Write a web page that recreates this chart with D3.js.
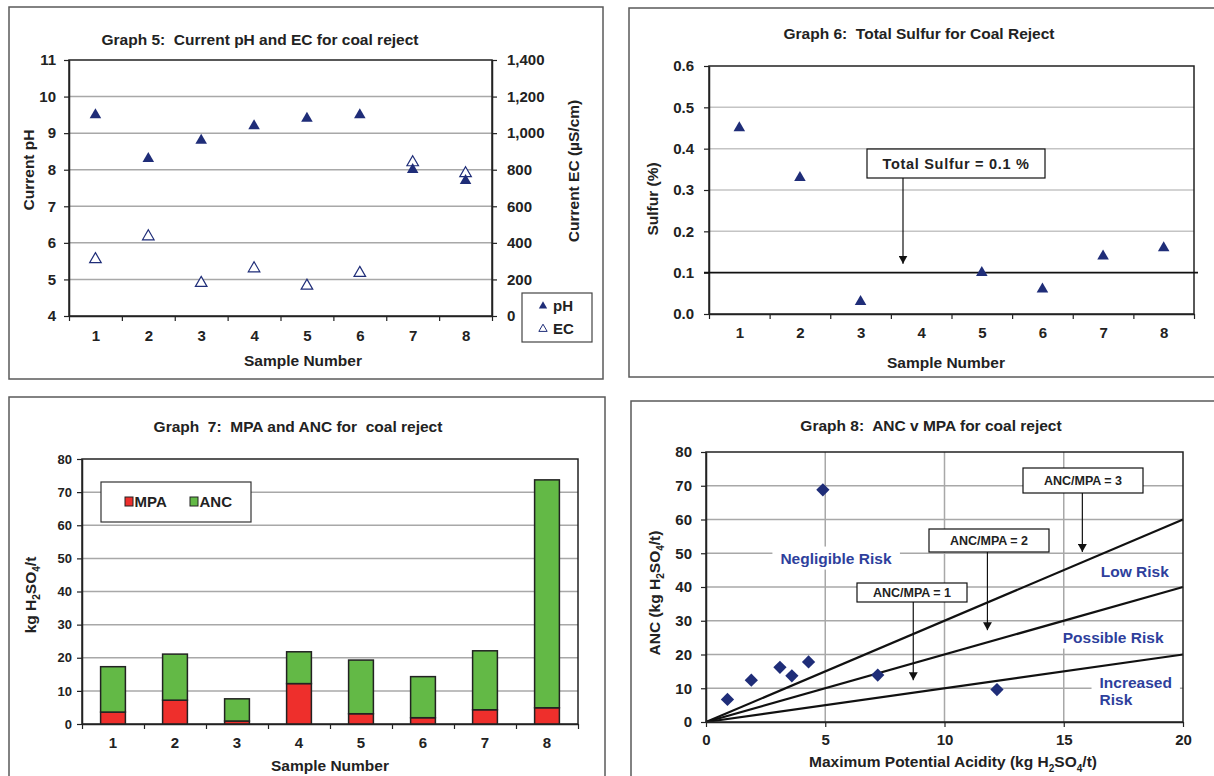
<!DOCTYPE html>
<html>
<head>
<meta charset="utf-8">
<script src="https://cdn.jsdelivr.net/npm/d3@7"></script>
<style>
  body { margin: 0; background: #fff; }
  text { font-family: "Liberation Sans", Arial, sans-serif; font-weight: bold; fill: #222; white-space: pre; }
</style>
</head>
<body>
<svg id="page" width="1214" height="776"></svg>
<script>
(function () {

  // values
  var samples = [1, 2, 3, 4, 5, 6, 7, 8];
  var phValues = [9.5, 8.3, 8.8, 9.2, 9.4, 9.5, 8.0, 7.7];
  var ecValues = [310, 435, 180, 260, 165, 235, 840, 780];
  var sulfurValues = [0.45, 0.33, 0.03, null, 0.10, 0.06, 0.14, 0.16];
  var mpaValues = [3.6, 7.2, 0.9, 12.2, 3.1, 1.9, 4.3, 4.9];
  var ancValues = [13.7, 13.9, 6.7, 9.6, 16.2, 12.4, 17.8, 68.8];
  var ancMpaRatios = [1, 2, 3];
  var sulfurLimit = 0.1;
  var phTicks = d3.range(4, 12);
  var ecTicks = d3.range(0, 1401, 200);
  var sulfurTicks = [0, 0.1, 0.2, 0.3, 0.4, 0.5, 0.6];
  var kgTicks = d3.range(0, 81, 10);
  var mpaTicks = [0, 5, 10, 15, 20];

  var svg = d3.select('#page');
  var navy = '#1f2d78';
  var riskBlue = '#2e3f9c';
  var ink = '#222';
  var grid = '#a8a8a8';

  svg.append('rect').attr('width', 1214).attr('height', 776).attr('fill', 'white');

  svg.append('defs').append('marker')
    .attr('id', 'arrow')
    .attr('viewBox', '0 0 10 10')
    .attr('refX', 10).attr('refY', 5)
    .attr('markerWidth', 8).attr('markerHeight', 9)
    .attr('markerUnits', 'userSpaceOnUse')
    .attr('preserveAspectRatio', 'none')
    .attr('orient', 'auto')
    .append('path').attr('d', 'M0,0L10,5L0,10Z').attr('fill', '#111');

  function frame(x, y, w, h) {
    svg.append('rect').attr('x', x).attr('y', y).attr('width', w).attr('height', h)
      .attr('fill', 'none').attr('stroke', '#5a5a5a').attr('stroke-width', 1.5);
  }

  // parts: [[text], [text, 'sub'], ...]
  function label(x, y, parts, size, rotate) {
    var t = svg.append('text').attr('font-size', size).attr('text-anchor', 'middle');
    if (rotate) t.attr('transform', 'translate(' + x + ',' + y + ') rotate(-90)');
    else t.attr('x', x).attr('y', y);
    var shifted = false;
    parts.forEach(function (p) {
      var s = t.append('tspan').text(p[0]);
      var sub = p[1] === 'sub';
      if (sub) s.attr('font-size', size * 0.65);
      if (sub && !shifted) s.attr('dy', size * 0.3);
      if (!sub && shifted) s.attr('dy', -size * 0.3);
      shifted = sub;
    });
    return t;
  }

  function axis(gen, tx, ty, size) {
    var g = svg.append('g').attr('transform', 'translate(' + tx + ',' + ty + ')').call(gen);
    g.attr('font-size', size).attr('color', ink);
    g.select('.domain').attr('stroke-width', 1.5);
    g.selectAll('.tick line').attr('stroke-width', 1.2);
    return g;
  }

  function hGrid(vals, yScale, x1, x2, color) {
    svg.append('g').selectAll('line')
      .data(vals)
      .join('line')
      .attr('x1', x1).attr('x2', x2)
      .attr('y1', function (d) { return yScale(d); })
      .attr('y2', function (d) { return yScale(d); })
      .attr('stroke', color).attr('stroke-width', 1.5);
  }

  function plotBox(p) {
    svg.append('rect').attr('x', p.l).attr('y', p.t).attr('width', p.r - p.l).attr('height', p.b - p.t)
      .attr('fill', 'none').attr('stroke', ink).attr('stroke-width', 1.5);
  }

  function callout(x, y, w, h, text, size, arrowX, arrowTip) {
    svg.append('line')
      .attr('x1', arrowX).attr('x2', arrowX).attr('y1', y + h).attr('y2', arrowTip)
      .attr('stroke', '#111').attr('stroke-width', 1.2)
      .attr('marker-end', 'url(#arrow)');
    svg.append('rect').attr('x', x).attr('y', y).attr('width', w).attr('height', h)
      .attr('fill', 'white').attr('stroke', '#111').attr('stroke-width', 1.2);
    return svg.append('text').attr('x', x + w / 2).attr('y', y + h / 2 + size * 0.36)
      .attr('text-anchor', 'middle').attr('font-size', size).text(text);
  }

  // ---------- Graph 5 ----------
  frame(9, 7, 594, 372);
  var p5 = { l: 69, r: 492, t: 60, b: 316 };
  var x5 = d3.scaleLinear().domain([0.5, 8.5]).range([p5.l, p5.r]);
  var ph5 = d3.scaleLinear().domain([4, 11]).range([p5.b, p5.t]);
  var ec5 = d3.scaleLinear().domain([0, 1400]).range([p5.b, p5.t]);

  hGrid(phTicks.slice(1, -1), ph5, p5.l, p5.r, grid);
  plotBox(p5);

  axis(d3.axisLeft(ph5).tickValues(phTicks).tickFormat(d3.format('d')).tickSize(5).tickSizeOuter(0).tickPadding(8), p5.l, 0, 15);
  axis(d3.axisRight(ec5).tickValues(ecTicks).tickFormat(d3.format(',')).tickSize(5).tickSizeOuter(0).tickPadding(10), p5.r, 0, 15);
  axis(d3.axisBottom(x5).tickValues(d3.range(0.5, 9, 1)).tickFormat('').tickSize(5).tickSizeOuter(0), 0, p5.b, 15);
  axis(d3.axisBottom(x5).tickValues(samples).tickSize(0).tickPadding(14), 0, p5.b, 15)
    .select('.domain').remove();

  svg.append('g').selectAll('path')
    .data(samples)
    .join('path')
    .attr('transform', function (d, i) { return 'translate(' + x5(d) + ',' + ec5(ecValues[i]) + ')'; })
    .attr('d', d3.symbol(d3.symbolTriangle, 58))
    .attr('fill', 'white').attr('stroke', navy).attr('stroke-width', 1.2);

  svg.append('g').selectAll('path')
    .data(samples)
    .join('path')
    .attr('transform', function (d, i) { return 'translate(' + x5(d) + ',' + ph5(phValues[i]) + ')'; })
    .attr('d', d3.symbol(d3.symbolTriangle, 58))
    .attr('fill', navy);

  // legend
  svg.append('rect').attr('x', 522).attr('y', 293).attr('width', 70).attr('height', 49)
    .attr('fill', 'white').attr('stroke', '#444').attr('stroke-width', 1.2);
  svg.append('path').attr('transform', 'translate(543,306)').attr('d', d3.symbol(d3.symbolTriangle, 30)).attr('fill', navy);
  svg.append('path').attr('transform', 'translate(543,329)').attr('d', d3.symbol(d3.symbolTriangle, 30))
    .attr('fill', 'white').attr('stroke', navy).attr('stroke-width', 1);
  svg.append('text').attr('x', 553).attr('y', 311).attr('font-size', 15).text('pH');
  svg.append('text').attr('x', 553).attr('y', 334).attr('font-size', 15).text('EC');

  label(260, 45, [['Graph 5:  Current pH and EC for coal reject']], 15.5);
  label(34, 170, [['Current pH']], 15.5, true);
  label(578.5, 171, [['Current EC (µS/cm)']], 15.5, true);
  label(303, 366, [['Sample Number']], 15.5);

  // ---------- Graph 6 ----------
  frame(629, 8, 600, 369);
  var p6 = { l: 709, r: 1194, t: 66, b: 314 };
  var x6 = d3.scaleLinear().domain([0.5, 8.5]).range([p6.l, p6.r]);
  var y6 = d3.scaleLinear().domain([0, 0.6]).range([p6.b, p6.t]);

  hGrid(sulfurTicks.slice(2, -1), y6, p6.l, p6.r, '#c4c4c4');
  plotBox(p6);

  axis(d3.axisLeft(y6).tickValues(sulfurTicks).tickFormat(d3.format('.1f')).tickSize(5).tickSizeOuter(0).tickPadding(10), p6.l, 0, 15);
  axis(d3.axisBottom(x6).tickValues(d3.range(0.5, 9, 1)).tickFormat('').tickSize(5).tickSizeOuter(0), 0, p6.b, 15);
  axis(d3.axisBottom(x6).tickValues(samples).tickSize(0).tickPadding(13), 0, p6.b, 15)
    .select('.domain').remove();

  svg.append('line')
    .attr('x1', p6.l - 5).attr('x2', p6.r + 4)
    .attr('y1', y6(sulfurLimit)).attr('y2', y6(sulfurLimit))
    .attr('stroke', '#111').attr('stroke-width', 1.6);

  svg.append('g').selectAll('path')
    .data(samples.filter(function (d, i) { return sulfurValues[i] != null; }))
    .join('path')
    .attr('transform', function (d) { return 'translate(' + x6(d) + ',' + y6(sulfurValues[d - 1]) + ')'; })
    .attr('d', d3.symbol(d3.symbolTriangle, 58))
    .attr('fill', navy);

  callout(867, 149, 178, 29, 'Total Sulfur = 0.1 %', 14.5, 903, y6(sulfurLimit) - 9)
    .attr('letter-spacing', 0.7);

  label(919, 39, [['Graph 6:  Total Sulfur for Coal Reject']], 15.5);
  label(657.5, 199, [['Sulfur (%)']], 15.5, true);
  label(946, 368, [['Sample Number']], 15.5);

  // ---------- Graph 7 ----------
  frame(9, 397, 596, 400);
  var p7 = { l: 82, r: 578, t: 459, b: 724 };
  var x7 = d3.scaleBand().domain(samples).range([p7.l, p7.r]).paddingInner(0.6).paddingOuter(0.3);
  var xb7 = d3.scaleLinear().domain([0, samples.length]).range([p7.l, p7.r]);
  var y7 = d3.scaleLinear().domain([0, 80]).range([p7.b, p7.t]);

  hGrid(kgTicks.slice(1, -1), y7, p7.l, p7.r, grid);
  plotBox(p7);

  var rows = samples.map(function (s, i) { return { sample: s, MPA: mpaValues[i], ANC: ancValues[i] }; });
  var stacked = d3.stack().keys(['MPA', 'ANC'])(rows);
  var barColor = { MPA: '#ee2f2c', ANC: '#63b946' };

  svg.append('g').selectAll('g')
    .data(stacked)
    .join('g')
    .attr('fill', function (d) { return barColor[d.key]; })
    .selectAll('rect')
    .data(function (d) { return d; })
    .join('rect')
    .attr('x', function (d) { return x7(d.data.sample); })
    .attr('width', x7.bandwidth())
    .attr('y', function (d) { return y7(d[1]); })
    .attr('height', function (d) { return y7(d[0]) - y7(d[1]); })
    .attr('stroke', ink).attr('stroke-width', 1.5);

  axis(d3.axisLeft(y7).tickValues(kgTicks).tickSize(5).tickSizeOuter(0).tickPadding(5), p7.l, 0, 13);
  axis(d3.axisBottom(xb7).tickValues(d3.range(0, samples.length + 1)).tickFormat('').tickSize(5).tickSizeOuter(0), 0, p7.b, 15);
  axis(d3.axisBottom(x7).tickSize(0).tickPadding(13), 0, p7.b, 15)
    .select('.domain').remove();

  // legend
  svg.append('rect').attr('x', 101).attr('y', 482).attr('width', 150).attr('height', 40)
    .attr('fill', 'white').attr('stroke', '#333').attr('stroke-width', 1.2);
  svg.append('rect').attr('x', 125).attr('y', 497).attr('width', 8).attr('height', 9)
    .attr('fill', barColor.MPA).attr('stroke', ink).attr('stroke-width', 1);
  svg.append('rect').attr('x', 190).attr('y', 497).attr('width', 8).attr('height', 9)
    .attr('fill', barColor.ANC).attr('stroke', ink).attr('stroke-width', 1);
  svg.append('text').attr('x', 134.5).attr('y', 507).attr('font-size', 15).text('MPA');
  svg.append('text').attr('x', 199.5).attr('y', 507).attr('font-size', 15).text('ANC');

  label(298, 432, [['Graph  7:  MPA and ANC for  coal reject']], 15.5);
  label(35.5, 595, [['kg H'], ['2', 'sub'], ['SO'], ['4', 'sub'], ['/t']], 15.5, true);
  label(330, 771, [['Sample Number']], 15.5);

  // ---------- Graph 8 ----------
  frame(631, 401, 600, 400);
  var p8 = { l: 706, r: 1183, t: 452, b: 722 };
  var x8 = d3.scaleLinear().domain([0, 20]).range([p8.l, p8.r]);
  var y8 = d3.scaleLinear().domain([0, 80]).range([p8.b, p8.t]);

  hGrid(kgTicks.slice(1, -1), y8, p8.l, p8.r, grid);
  svg.append('g').selectAll('line')
    .data(mpaTicks.slice(1, -1))
    .join('line')
    .attr('y1', p8.t).attr('y2', p8.b)
    .attr('x1', function (d) { return x8(d); })
    .attr('x2', function (d) { return x8(d); })
    .attr('stroke', grid).attr('stroke-width', 1.5);

  // risk zone labels on white patches
  function riskText(lines, x, y, anchor) {
    var size = 15.5;
    var t = svg.append('text').attr('font-size', size).attr('text-anchor', anchor)
      .style('fill', riskBlue);
    lines.forEach(function (l, i) {
      t.append('tspan').attr('x', x).attr('y', y + i * 17 + size * 0.36).text(l);
    });
    var bb = t.node().getBBox();
    svg.insert('rect', function () { return t.node(); })
      .attr('x', bb.x - 8).attr('y', bb.y - 3).attr('width', bb.width + 16).attr('height', bb.height + 6)
      .attr('fill', 'white');
  }
  riskText(['Negligible Risk'], x8(5.45), y8(48.6), 'middle');
  riskText(['Low Risk'], x8(17.98), y8(44.6), 'middle');
  riskText(['Possible Risk'], x8(17.07), y8(25.2), 'middle');
  riskText(['Increased', 'Risk'], x8(16.5), y8(11.8), 'start');

  svg.append('g').selectAll('line')
    .data(ancMpaRatios)
    .join('line')
    .attr('x1', x8(0)).attr('y1', y8(0))
    .attr('x2', x8(20)).attr('y2', function (r) { return y8(20 * r); })
    .attr('stroke', '#111').attr('stroke-width', 2.2);

  plotBox(p8);

  svg.append('g').selectAll('path')
    .data(mpaValues)
    .join('path')
    .attr('transform', function (d, i) { return 'translate(' + x8(d) + ',' + y8(ancValues[i]) + ') rotate(45)'; })
    .attr('d', d3.symbol(d3.symbolSquare, 88))
    .attr('fill', navy);

  callout(1023, 468, 120, 25, 'ANC/MPA = 3', 12.5, x8(15.78), y8(50.4));
  callout(929, 529, 120, 23, 'ANC/MPA = 2', 12.5, x8(11.8), y8(27.2));
  callout(857, 583, 110, 19, 'ANC/MPA = 1', 12.5, x8(8.69), y8(12.4));

  axis(d3.axisLeft(y8).tickValues(kgTicks).tickSize(5).tickSizeOuter(0).tickPadding(9), p8.l, 0, 15);
  axis(d3.axisBottom(x8).tickValues(mpaTicks).tickSize(5).tickSizeOuter(0).tickPadding(7), 0, p8.b, 15);

  label(931, 431, [['Graph 8:  ANC v MPA for coal reject']], 15.5);
  label(659.5, 593, [['ANC (kg H'], ['2', 'sub'], ['SO'], ['4', 'sub'], ['/t)']], 15.5, true);
  label(953, 767, [['Maximum Potential Acidity (kg H'], ['2', 'sub'], ['SO'], ['4', 'sub'], ['/t)']], 15.5);

})();
</script>
</body>
</html>
